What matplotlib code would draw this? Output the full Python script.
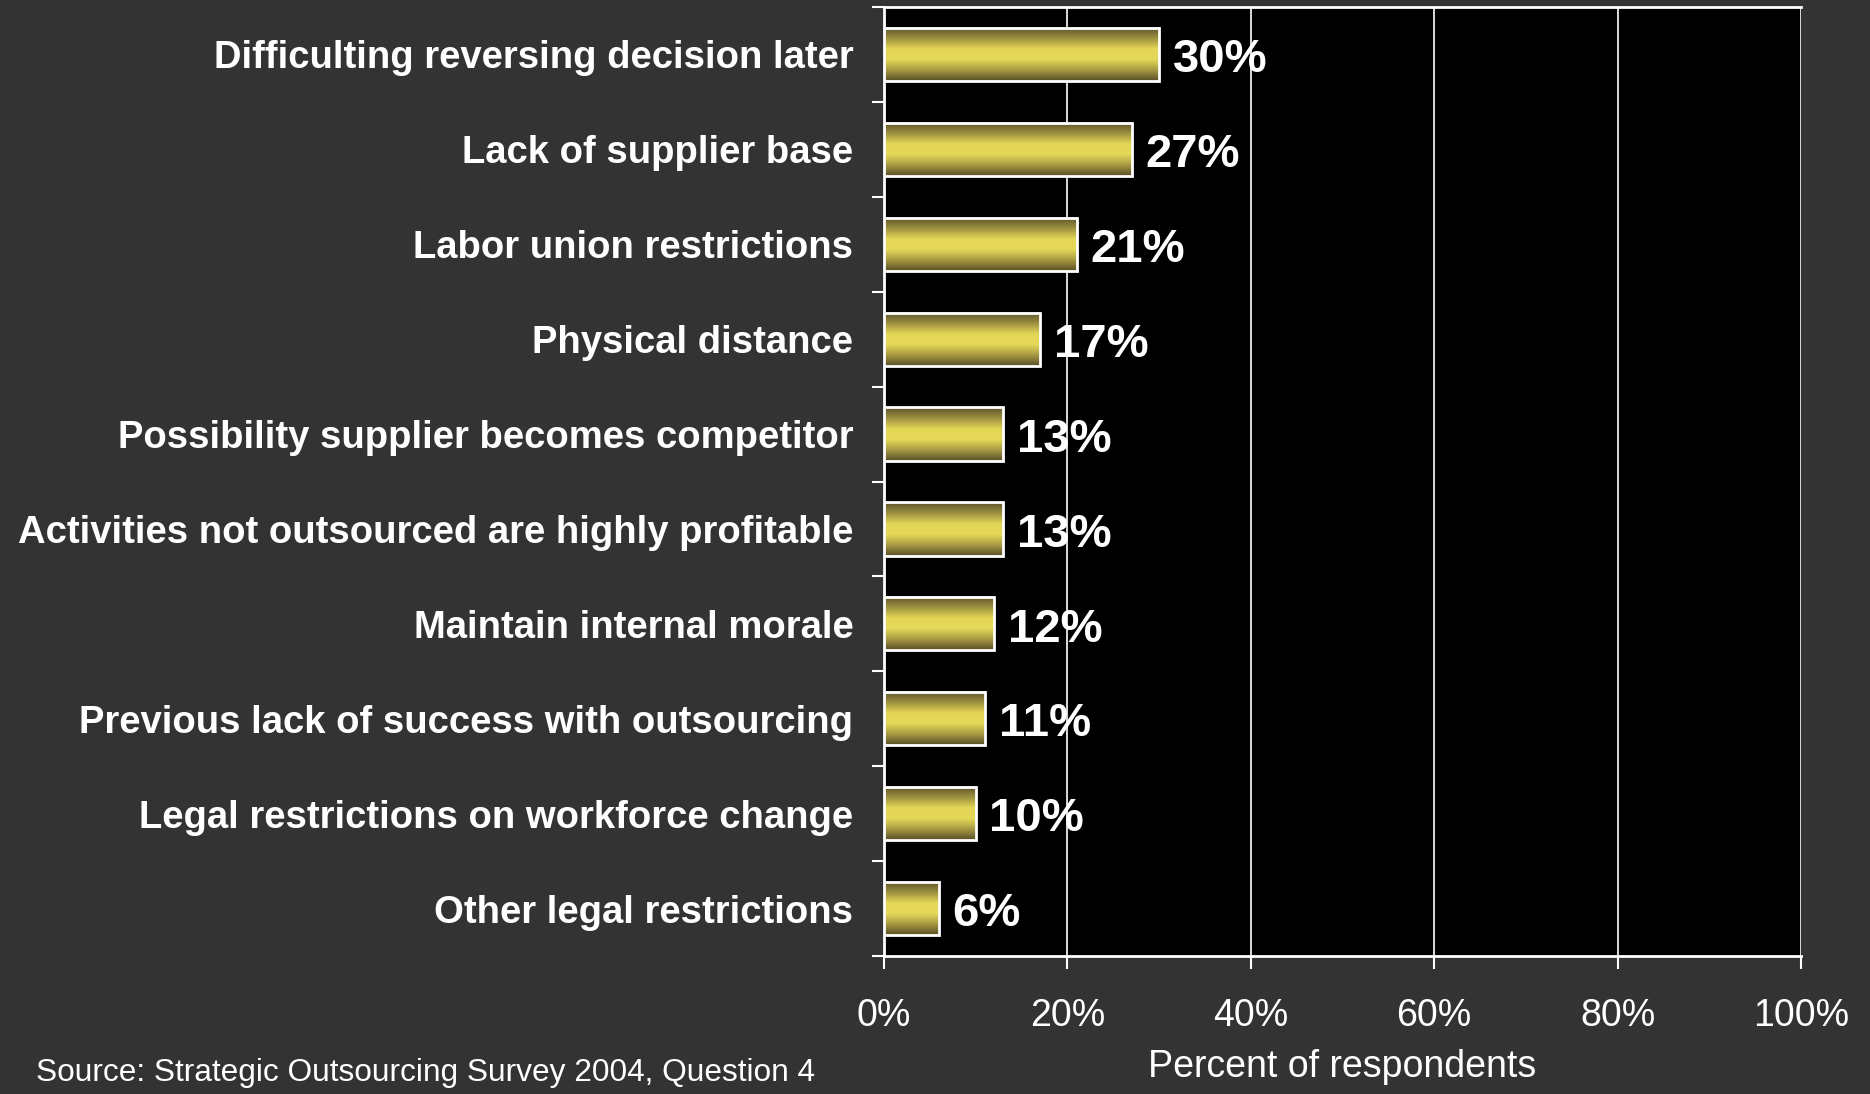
import numpy as np
import matplotlib.pyplot as plt
from matplotlib.colors import LinearSegmentedColormap
from matplotlib.transforms import ScaledTranslation

# Survey results, top row first
reasons = [
    "Difficulting reversing decision later",
    "Lack of supplier base",
    "Labor union restrictions",
    "Physical distance",
    "Possibility supplier becomes competitor",
    "Activities not outsourced are highly profitable",
    "Maintain internal morale",
    "Previous lack of success with outsourcing",
    "Legal restrictions on workforce change",
    "Other legal restrictions",
]
pct = [30, 27, 21, 17, 13, 13, 12, 11, 10, 6]
xticks = [0, 20, 40, 60, 80, 100]

BG = "#333333"
FONT = "Liberation Sans"

fig = plt.figure(figsize=(18.7, 10.94), dpi=100, facecolor=BG)
ax = fig.add_axes([0.4727, 0.1261, 0.4904, 0.8675])
ax.set_facecolor("black")

y = np.arange(len(reasons))
bar_h = 0.56
bars = ax.barh(y, pct, height=bar_h, color="none", edgecolor="white",
               linewidth=2, zorder=4)

# metallic yellow shading, dark at the edges and bright in the middle
shade = LinearSegmentedColormap.from_list(
    "gold", ["#5e552a", "#9c9040", "#e3d555", "#e6d858", "#a89a44", "#5a5128"])
grad = np.linspace(0, 1, 64).reshape(-1, 1)
for b in bars:
    x0, y0 = b.get_x(), b.get_y()
    ax.imshow(grad, cmap=shade, aspect="auto", zorder=3,
              extent=[x0, x0 + b.get_width(), y0 + b.get_height(), y0],
              interpolation="bilinear")

for yi, v in zip(y, pct):
    ax.text(v + 1.5, yi + 0.06, f"{v}%", va="center", ha="left",
            color="white", fontsize=34, fontweight="bold", family=FONT,
            zorder=5)

ax.set_xlim(0, 100)
ax.set_ylim(len(reasons) - 0.5, -0.5)

ax.set_xticks(xticks)
ax.set_xticklabels([f"{t}%" for t in xticks], color="white", fontsize=27,
                   family=FONT)
ax.set_yticks(y)
ax.set_yticklabels(reasons, color="white", fontsize=27.5, fontweight="bold",
                   family=FONT)
# nudge the category names down a little
shift = ScaledTranslation(0, -0.04, fig.dpi_scale_trans)
for lbl in ax.get_yticklabels():
    lbl.set_transform(lbl.get_transform() + shift)
ax.tick_params(axis="y", which="major", length=0, pad=22)
ax.set_yticks(np.arange(-0.5, len(reasons)), minor=True)
ax.tick_params(axis="y", which="minor", length=9, width=1.5, color="white",
               direction="out")
ax.tick_params(axis="x", length=9, width=1.5, color="white", direction="out",
               pad=21)

ax.grid(axis="x", color="white", linewidth=1.2, zorder=1)
ax.set_axisbelow(True)
for side in ["top", "left", "bottom"]:
    ax.spines[side].set_color("white")
    ax.spines[side].set_linewidth(2)
ax.spines["right"].set_visible(False)

ax.set_xlabel("Percent of respondents", color="white", fontsize=27,
              family=FONT, labelpad=11)

fig.text(0.019, 0.019, "Source: Strategic Outsourcing Survey 2004, Question 4",
         color="white", fontsize=22.8, family=FONT, ha="left", va="center")

fig.savefig("out.png", facecolor=BG)
